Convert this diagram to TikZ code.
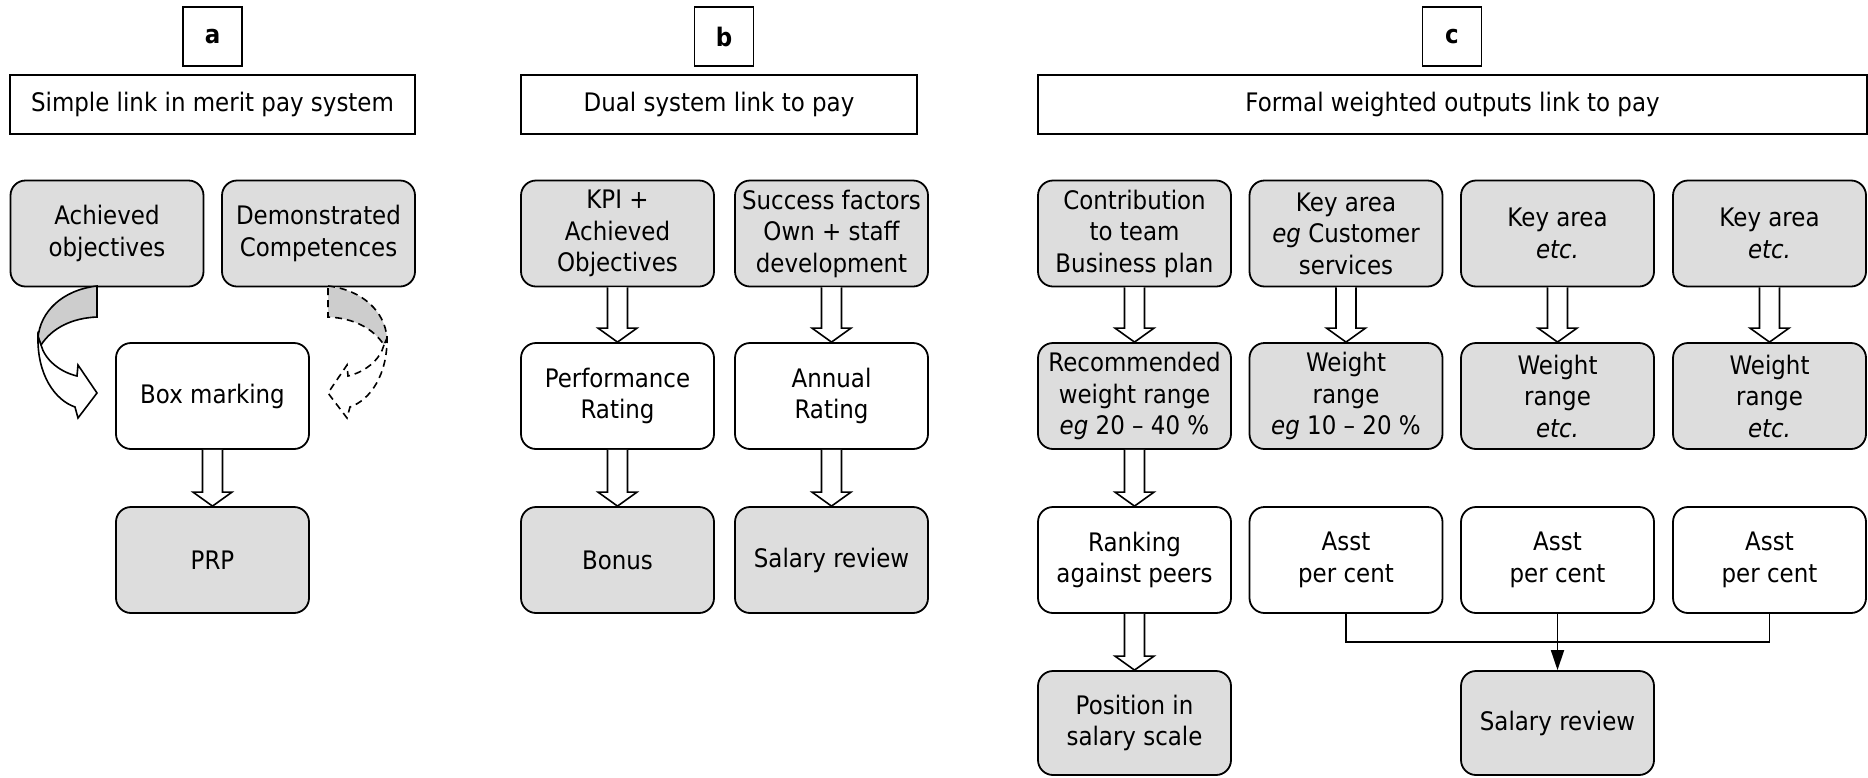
\documentclass[tikz,border=0pt]{standalone}
\usepackage{fontspec}
\setmainfont{DejaVu Sans}[FakeStretch=0.9]
\usetikzlibrary{calc,arrows.meta}
\definecolor{boxgray}{RGB}{221,221,221}
\definecolor{arrgray}{RGB}{205,205,205}
\tikzset{
  txt/.style={font=\fontsize{25.5pt}{31.5pt}\selectfont},
  rbox/.style={txt,draw,line width=1.8pt,rounded corners=15pt,minimum width=193pt,minimum height=106pt,align=center,inner sep=0pt},
  gbox/.style={rbox,fill=boxgray},
  wbox/.style={rbox,fill=white},
  titlebox/.style={txt,draw,line width=1.8pt,minimum height=59pt,inner sep=0pt,align=center},
  letterbox/.style={txt,draw,line width=1.8pt,minimum size=59pt,inner sep=0pt,font=\fontsize{25.5pt}{31.5pt}\selectfont\bfseries},
  barrow/.style={draw,line width=1.6pt,fill=white,line join=miter},
  thinarrow/.style={line width=1.8pt,-{Triangle[length=20pt,width=13pt]}},
  curvegray/.style={draw,line width=1.6pt,fill=arrgray},
  curvewhite/.style={draw,line width=1.6pt,fill=white},
}
\newcommand\blockarr[2]{%
  \draw[barrow] ($(#1.south)+(-10,0)$) -- ($(#2.north)+(-10,-14)$) -- ($(#2.north)+(-19.5,-14)$) -- (#2.north) -- ($(#2.north)+(19.5,-14)$) -- ($(#2.north)+(10,-14)$) -- ($(#1.south)+(10,0)$);}
\begin{document}
\begin{tikzpicture}[x=1pt,y=-1pt]
\useasboundingbox (0,0) rectangle (1868,777);

% ---------- panel a ----------
\node[letterbox] (la) at (212.5,36.5) {a};
\node[titlebox,minimum width=405pt] (ta) at (212.5,104.5) {Simple link in merit pay system};
\node[gbox] (a1) at (107,233.5) {Achieved\\objectives};
\node[gbox] (a2) at (318.5,233.5) {Demonstrated\\Competences};
\node[wbox] (a3) at (212.5,396) {Box marking};
\node[gbox] (a4) at (212.5,560) {PRP};
\blockarr{a3}{a4}

% curved arrows
\path[curvegray] (97,286) .. controls (62,290) and (40,312) .. (38,338) -- (41,345) .. controls (52,328) and (72,318) .. (97,317) -- cycle;
\path[curvewhite] (38,336) .. controls (37,375) and (55,400) .. (75,407) -- (78,418) -- (97,393) -- (78,365) -- (77,376) .. controls (60,372) and (45,360) .. (41,345) -- cycle;
\begin{scope}[xshift=425pt,xscale=-1,dash pattern=on 7pt off 5pt]
\path[curvegray] (97,286) .. controls (62,290) and (40,312) .. (38,338) -- (41,345) .. controls (52,328) and (72,318) .. (97,317) -- cycle;
\path[draw,line width=1.6pt] (38,336) .. controls (37,375) and (55,400) .. (75,407) -- (78,418) -- (97,393) -- (78,365) -- (77,376) .. controls (60,372) and (45,360) .. (41,345);
\end{scope}

% ---------- panel b ----------
\node[letterbox] (lb) at (724,36.5) {b};
\node[titlebox,minimum width=396pt] (tb) at (719,104.5) {Dual system link to pay};
\node[gbox] (b1) at (617.5,233.5) {KPI +\\Achieved\\Objectives};
\node[gbox] (b2) at (831.5,233.5) {Success factors\\Own + staff\\development};
\node[wbox] (b3) at (617.5,396) {Performance\\Rating};
\node[wbox] (b4) at (831.5,396) {Annual\\Rating};
\node[gbox] (b5) at (617.5,560) {Bonus};
\node[gbox] (b6) at (831.5,560) {Salary review};
\blockarr{b1}{b3}
\blockarr{b2}{b4}
\blockarr{b3}{b5}
\blockarr{b4}{b6}

% ---------- panel c ----------
\node[letterbox] (lc) at (1452,36.5) {c};
\node[titlebox,minimum width=829pt] (tc) at (1452.5,104.5) {Formal weighted outputs link to pay};
\node[gbox] (c1) at (1134.5,233.5) {Contribution\\to team\\Business plan};
\node[gbox] (c2) at (1346,233.5) {Key area\\\textit{eg} Customer\\services};
\node[gbox] (c3) at (1557.5,233.5) {Key area\\\textit{etc.}};
\node[gbox] (c4) at (1769.5,233.5) {Key area\\\textit{etc.}};
\node[gbox] (d1) at (1134.5,396) {Recommended\\weight range\\\textit{eg} 20 – 40 \%};
\node[gbox] (d2) at (1346,396) {Weight\\range\\\textit{eg} 10 – 20 \%};
\node[gbox] (d3) at (1557.5,396) {Weight\\range\\\textit{etc.}};
\node[gbox] (d4) at (1769.5,396) {Weight\\range\\\textit{etc.}};
\node[wbox] (e1) at (1134.5,560) {Ranking\\against peers};
\node[wbox] (e2) at (1346,560) {Asst\\per cent};
\node[wbox] (e3) at (1557.5,560) {Asst\\per cent};
\node[wbox] (e4) at (1769.5,560) {Asst\\per cent};
\node[gbox,minimum height=104pt] (f1) at (1134.5,723) {Position in\\salary scale};
\node[gbox,minimum height=104pt] (f3) at (1557.5,723) {Salary review};
\blockarr{c1}{d1}
\blockarr{c2}{d2}
\blockarr{c3}{d3}
\blockarr{c4}{d4}
\blockarr{d1}{e1}
\blockarr{e1}{f1}
\coordinate (j) at (1557.5,642);
\draw[line width=1.8pt] (e2.south) |- (j) -| (e4.south);
\draw[thinarrow] (e3.south) -- (f3.north);
\end{tikzpicture}
\end{document}
